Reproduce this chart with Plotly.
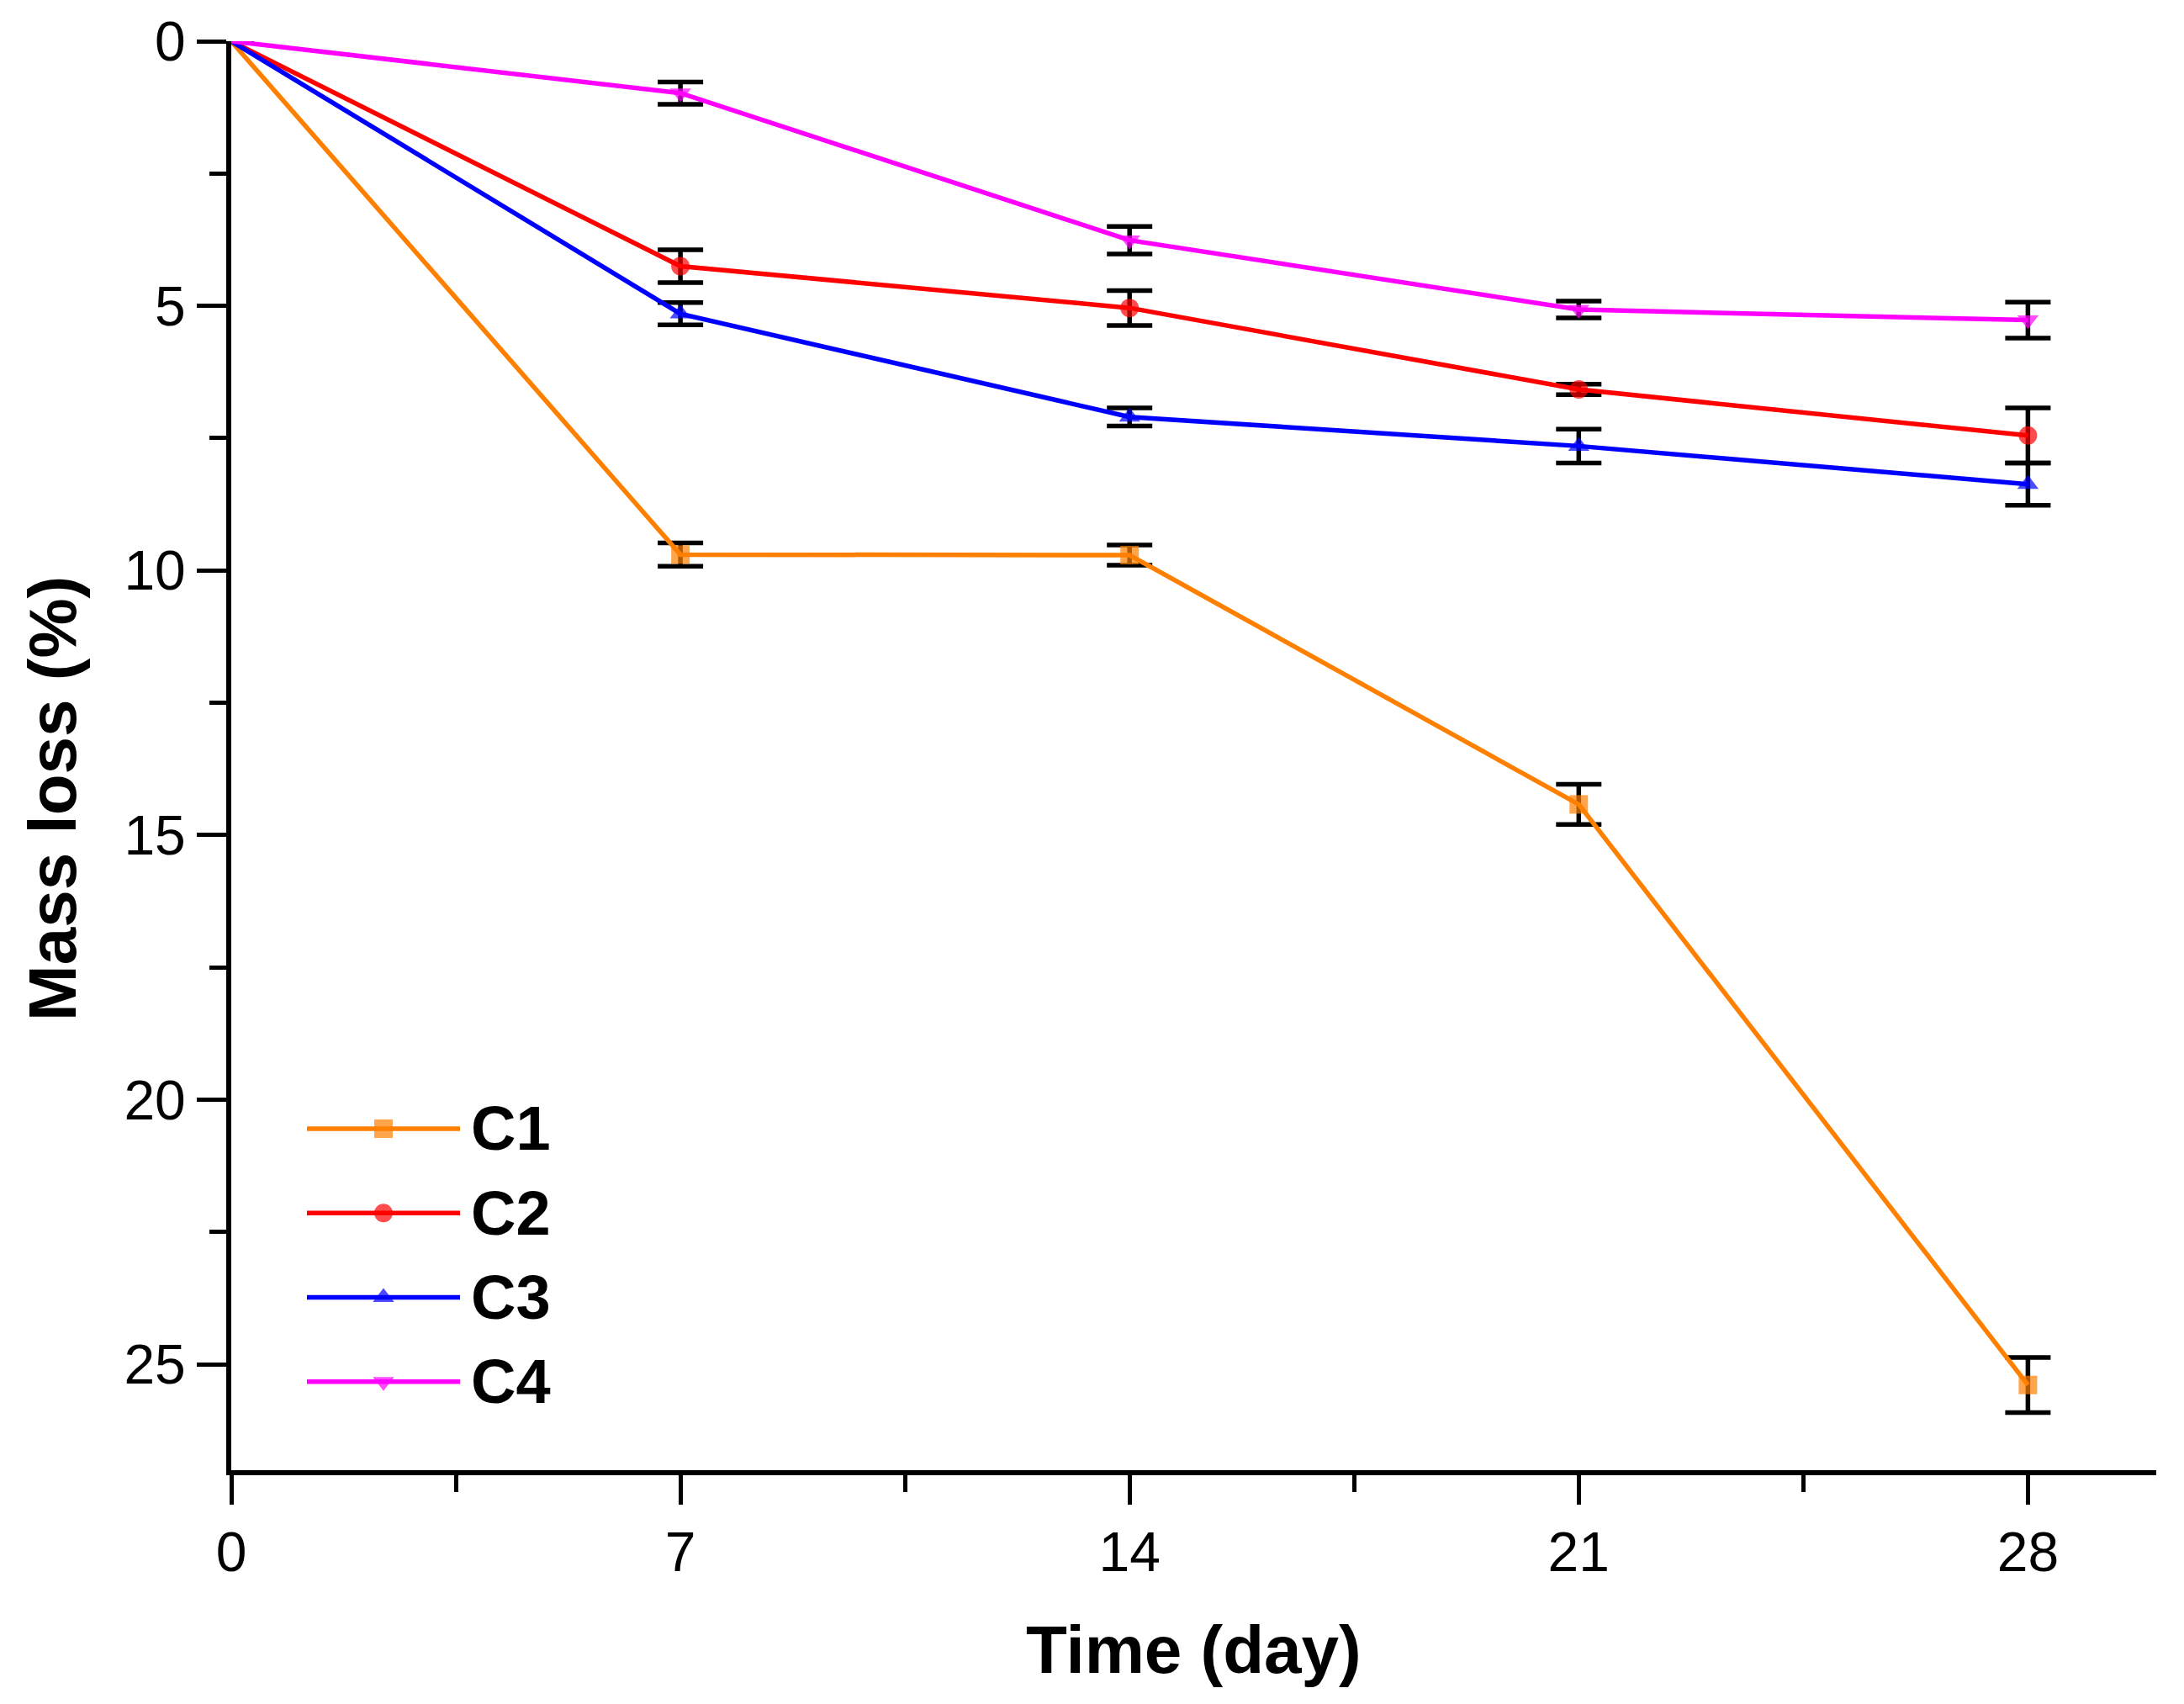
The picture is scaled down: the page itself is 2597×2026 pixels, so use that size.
import plotly.graph_objects as go

# ---- data ----
days = [0, 7, 14, 21, 28]
series_names = ["C1", "C2", "C3", "C4"]
c1 = [0, 9.70, 9.71, 14.42, 25.39]
c2 = [0, 4.25, 5.04, 6.58, 7.45]
c3 = [0, 5.15, 7.10, 7.65, 8.37]
c4 = [0, 0.98, 3.76, 5.07, 5.27]
c1_err = [None, 0.22, 0.19, 0.38, 0.52]
c2_err = [None, 0.31, 0.33, 0.10, 0.52]
c3_err = [None, 0.21, 0.17, 0.32, 0.40]
c4_err = [None, 0.21, 0.26, 0.16, 0.34]
x_ticks = [0, 7, 14, 21, 28]
y_ticks = [0, 5, 10, 15, 20, 25]

colors = ["#FF8000", "#FF0000", "#0000FF", "#FF00FF"]
symbols = ["square", "circle", "triangle-up", "triangle-down"]
values = [c1, c2, c3, c4]
errors = [c1_err, c2_err, c3_err, c4_err]

FONT = "Liberation Sans, Arial, sans-serif"
W, H = 2597, 2026
L, R, T, B = 275, 33, 45, 278
PW, PH = W - L - R, H - T - B

fig = go.Figure()
msize = 22
lw = 5.5
for name, vals, err, col, sym in zip(series_names, values, errors, colors, symbols):
    sizes = [0 if d == 0 else msize for d in days]
    fig.add_trace(go.Scatter(
        x=days, y=vals, name=name, mode="lines+markers",
        line=dict(color=col, width=lw),
        marker=dict(color=col, symbol=sym, size=sizes, line=dict(width=0)),
        error_y=dict(type="data", array=err, color="black", thickness=5.5, width=27),
        cliponaxis=False, showlegend=False,
    ))

# ---- custom legend (long sample lines as in the original) ----
leg_x0_px, leg_x1_px = 365, 547
leg_label_px = 558
leg_row0_px, leg_row_gap = 1341, 100.5
n_rows = len(series_names)
for i, (name, col, sym) in enumerate(zip(series_names, colors, symbols)):
    r = i
    fig.add_trace(go.Scatter(
        x=[0, 0.5, 1], y=[r, r, r], mode="lines+markers",
        line=dict(color=col, width=lw),
        marker=dict(color=col, symbol=sym, size=[0, msize, 0], line=dict(width=0)),
        xaxis="x2", yaxis="y2", showlegend=False, hoverinfo="skip",
    ))
    row_px = leg_row0_px + i * leg_row_gap
    fig.add_annotation(
        x=(leg_label_px - L) / PW, y=(T + PH - row_px) / PH,
        xref="paper", yref="paper", text="<b>%s</b>" % name,
        showarrow=False, xanchor="left", yanchor="middle",
        font=dict(family=FONT, size=74, color="black"),
    )

y2_top_px = leg_row0_px - 0.5 * leg_row_gap
y2_bot_px = leg_row0_px + (n_rows - 0.5) * leg_row_gap

axis_common = dict(
    showline=True, linecolor="black", linewidth=6, mirror=False,
    ticks="outside", ticklen=35, tickwidth=5, tickcolor="black",
    showgrid=False, zeroline=False,
    tickfont=dict(family=FONT, size=66, color="black"),
)

fig.update_layout(
    width=W, height=H,
    margin=dict(l=L, r=R, t=T, b=B, pad=0),
    paper_bgcolor="white", plot_bgcolor="white",
    showlegend=False,
    font=dict(family=FONT, color="black"),
    xaxis=dict(
        range=[0, 30], tickmode="array", tickvals=x_ticks, ticktext=[str(v) for v in x_ticks],
        minor=dict(tickmode="linear", dtick=3.5, tick0=0, ticklen=20, tickwidth=5,
                   tickcolor="black", ticks="outside"),
        **axis_common,
    ),
    yaxis=dict(
        range=[27, 0], tickmode="array", tickvals=y_ticks, ticktext=[str(v) for v in y_ticks],
        minor=dict(tickmode="linear", dtick=2.5, tick0=0, ticklen=20, tickwidth=5,
                   tickcolor="black", ticks="outside"),
        **axis_common,
    ),
    xaxis2=dict(domain=[(leg_x0_px - L) / PW, (leg_x1_px - L) / PW], range=[0, 1],
                visible=False, anchor="y2", fixedrange=True),
    yaxis2=dict(domain=[(T + PH - y2_bot_px) / PH, (T + PH - y2_top_px) / PH],
                range=[n_rows - 0.5, -0.5], visible=False, anchor="x2", fixedrange=True),
)

# axis titles
fig.add_annotation(x=0.5, y=(T + PH - 1962) / PH, xref="paper", yref="paper",
                   text="<b>Time (day)</b>", showarrow=False,
                   xanchor="center", yanchor="middle",
                   font=dict(family=FONT, size=80, color="black"))
fig.add_annotation(x=(63 - L) / PW, y=(T + PH - 948) / PH, xref="paper", yref="paper",
                   text="<b>Mass loss (%)</b>", showarrow=False, textangle=-90,
                   xanchor="center", yanchor="middle",
                   font=dict(family=FONT, size=80, color="black"))

fig.write_html("out.html")
